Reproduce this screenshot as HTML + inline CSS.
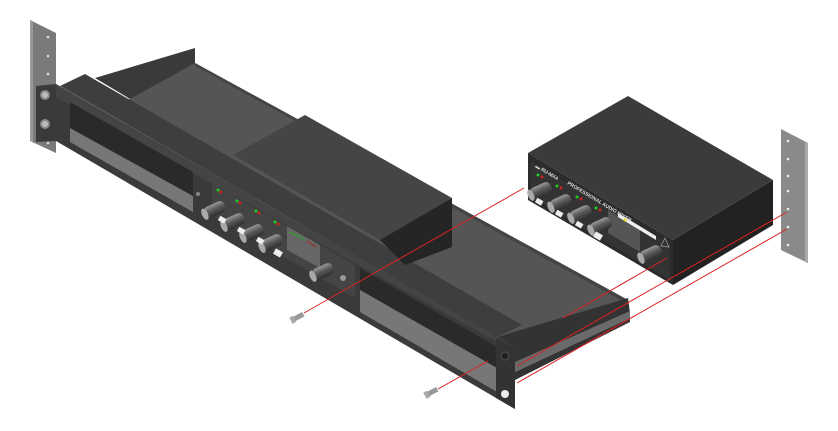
<!DOCTYPE html>
<html><head><meta charset="utf-8"><style>
html,body{margin:0;padding:0;background:#fff;width:838px;height:431px;overflow:hidden}
svg{display:block}
text{font-family:"Liberation Sans",sans-serif;font-weight:bold}
</style></head><body>
<svg width="838" height="431" viewBox="0 0 838 431" xmlns="http://www.w3.org/2000/svg">
<defs>
<linearGradient id="kn" x1="0" y1="0" x2="0" y2="1">
<stop offset="0" stop-color="#9a9a9a"/><stop offset="0.45" stop-color="#5a5a5a"/><stop offset="1" stop-color="#2e2e2e"/>
</linearGradient>
<g id="knob">
<rect x="-10" y="-6" width="22" height="12" rx="5" fill="url(#kn)"/>
<ellipse cx="-10" cy="0" rx="3" ry="6" fill="#aaa"/>
</g>
</defs>

<!-- left rail -->
<polygon points="30,20 56,33 56,153 30,141" fill="#7a7a7a"/>
<polygon points="30,20 33,21 33,142 30,141" fill="#9a9a9a"/>
<circle cx="48" cy="37" r="1.3" fill="#ddd"/><circle cx="48" cy="56" r="1.3" fill="#ddd"/><circle cx="48" cy="74" r="1.3" fill="#ddd"/><circle cx="48" cy="143" r="1.3" fill="#ddd"/>

<!-- left wedge -->
<polygon points="95,78 195,48 195,65 130,99" fill="#3a3a3a"/>
<!-- shelf top -->
<polygon points="128,100 195,63 628,300 497,337" fill="#555"/>
<polygon points="195,63 195,66 628,304 628,300" fill="#444"/>
<!-- panel top lip -->
<polygon points="60,86 85,74 522,325 497,337" fill="#3e3e3e"/>

<!-- block on shelf -->
<polygon points="233,155 305,115 452,198 380,240" fill="#454545"/>
<polygon points="380,240 452,198 452,247 405,265" fill="#252525"/>

<!-- right wedge / flange -->
<polygon points="497,337 628,298 630,313 515,370" fill="#333"/>
<polygon points="515,362 630,311 630,318 515,372" fill="#6a6a6a"/>
<polygon points="515,372 630,318 630,322 515,380" fill="#333"/>

<!-- front panel -->
<polygon points="56,84 515,347 515,409 56,141" fill="#3a3a3a"/>
<polygon points="56,84 515,347 515,352 56,97" fill="#444"/>
<!-- ear left -->
<polygon points="36,86 56,84 56,141 36,142" fill="#3a3a3a"/>
<circle cx="45" cy="95" r="5" fill="#888"/><circle cx="45" cy="95" r="3" fill="#bbb"/>
<circle cx="45" cy="124" r="5" fill="#888"/><circle cx="45" cy="124" r="3" fill="#bbb"/>
<!-- openings -->
<polygon points="70,102 193,172 193,212 70,140" fill="#2a2a2a"/>
<polygon points="70,128 193,196 193,212 70,142" fill="#777"/>
<polygon points="360,268 497,347 497,392 360,312" fill="#2a2a2a"/>
<polygon points="360,290 497,368 497,392 360,312" fill="#777"/>
<!-- right ear -->
<polygon points="496,338 515,347 515,409 496,398" fill="#333"/>
<circle cx="505" cy="356" r="4" fill="#222" stroke="#555"/>
<circle cx="505" cy="394" r="4" fill="#eee"/>

<!-- rack mixer faceplate -->
<polygon points="212,184 355,265 355,298 212,215" fill="#444"/>
<polygon points="287,226 320,245 320,268 287,250" fill="#666"/>
<circle cx="198" cy="194" r="2" fill="#888"/>
<circle cx="343" cy="278" r="3" fill="#999"/>
<circle cx="218" cy="190" r="1.5" fill="#2c2"/><circle cx="237" cy="201" r="1.5" fill="#2c2"/><circle cx="256" cy="211" r="1.5" fill="#2c2"/><circle cx="275" cy="222" r="1.5" fill="#2c2"/>
<circle cx="221" cy="192" r="1.5" fill="#c22"/><circle cx="240" cy="203" r="1.5" fill="#c22"/><circle cx="259" cy="213" r="1.5" fill="#c22"/><circle cx="278" cy="224" r="1.5" fill="#c22"/>
<polyline points="289,232 300,237 305,240" stroke="#2a2" fill="none"/><polyline points="307,241 316,247" stroke="#a22" fill="none"/>
<g transform="translate(214,210) rotate(-25)"><use href="#knob"/></g>
<g transform="translate(233,222) rotate(-25)"><use href="#knob"/></g>
<g transform="translate(252,233) rotate(-25)"><use href="#knob"/></g>
<g transform="translate(271,243) rotate(-25)"><use href="#knob"/></g>
<g transform="translate(322,272) rotate(-25)"><use href="#knob"/></g>
<rect x="219" y="217" width="7" height="5" fill="#eee" transform="rotate(30 222 219)"/>
<rect x="238" y="228" width="7" height="5" fill="#eee" transform="rotate(30 241 230)"/>
<rect x="257" y="238" width="7" height="5" fill="#eee" transform="rotate(30 260 240)"/>
<rect x="274" y="250" width="8" height="6" fill="#eee" transform="rotate(30 278 253)"/>

<!-- mixer unit -->
<polygon points="528,153 628,96 773,180 673,240" fill="#3b3b3b"/>
<polygon points="528,153 673,240 673,285 528,200" fill="#2b2b2b"/>
<polygon points="673,240 773,180 773,225 673,285" fill="#222"/>
<polygon points="531,161 670,245 670,280 531,197" fill="#333"/>
<polygon points="608,210 640,229 640,252 608,233" fill="#555"/>
<polygon points="618,213 656,236 656,240 618,217" fill="#eee"/>
<text x="0" y="0" font-size="5" fill="#ddd" transform="translate(535,167) rotate(31)">▬ RU-MX4</text>
<text x="0" y="0" font-size="5" fill="#ddd" transform="translate(567,184) rotate(31)">PROFESSIONAL AUDIO MIXER</text>
<circle cx="538" cy="175" r="1.5" fill="#2c2"/><circle cx="557" cy="186" r="1.5" fill="#2c2"/><circle cx="577" cy="197" r="1.5" fill="#2c2"/><circle cx="596" cy="208" r="1.5" fill="#2c2"/>
<circle cx="542" cy="177" r="1.5" fill="#c22"/><circle cx="561" cy="188" r="1.5" fill="#c22"/><circle cx="581" cy="199" r="1.5" fill="#c22"/><circle cx="600" cy="210" r="1.5" fill="#c22"/>
<circle cx="625" cy="220" r="1.5" fill="#dd2"/>
<g transform="translate(540,191) rotate(-25)"><use href="#knob"/></g>
<g transform="translate(560,203) rotate(-25)"><use href="#knob"/></g>
<g transform="translate(580,214) rotate(-25)"><use href="#knob"/></g>
<g transform="translate(600,226) rotate(-25)"><use href="#knob"/></g>
<g transform="translate(650,254) rotate(-25)"><use href="#knob"/></g>
<rect x="536" y="199" width="7" height="5" fill="#eee" transform="rotate(30 539 201)"/>
<rect x="556" y="211" width="7" height="5" fill="#eee" transform="rotate(30 559 213)"/>
<rect x="576" y="222" width="7" height="5" fill="#eee" transform="rotate(30 579 224)"/>
<rect x="594" y="233" width="8" height="6" fill="#eee" transform="rotate(30 598 236)"/>
<polygon points="661,246 665,238 669,247" fill="none" stroke="#999" stroke-width="0.8"/>

<!-- right rail -->
<polygon points="781,129 808,143 808,263 781,250" fill="#8a8a8a"/>
<polygon points="805,142 808,143 808,263 805,262" fill="#aaa"/>
<circle cx="788" cy="141" r="1.3" fill="#eee"/><circle cx="788" cy="159" r="1.3" fill="#eee"/><circle cx="788" cy="176" r="1.3" fill="#eee"/><circle cx="788" cy="191" r="1.3" fill="#eee"/><circle cx="788" cy="209" r="1.3" fill="#eee"/><circle cx="788" cy="227" r="1.3" fill="#eee"/><circle cx="788" cy="245" r="1.3" fill="#eee"/>

<!-- screws -->
<g transform="translate(298,317) rotate(-28)"><rect x="-6" y="-2.5" width="12" height="5" fill="#999"/><rect x="-8" y="-3.5" width="4" height="7" fill="#aaa"/></g>
<g transform="translate(432,392) rotate(-28)"><rect x="-6" y="-2.5" width="12" height="5" fill="#999"/><rect x="-8" y="-3.5" width="4" height="7" fill="#aaa"/></g>

<!-- red guide lines -->
<g stroke="#d22" stroke-width="1" fill="none">
<line x1="304" y1="313" x2="524" y2="188"/>
<line x1="438" y1="389" x2="488" y2="361"/>
<line x1="563" y1="318" x2="667" y2="258"/>
<line x1="517" y1="366" x2="787" y2="212"/>
<line x1="517" y1="383" x2="787" y2="229"/>
</g>
</svg>
</body></html>
